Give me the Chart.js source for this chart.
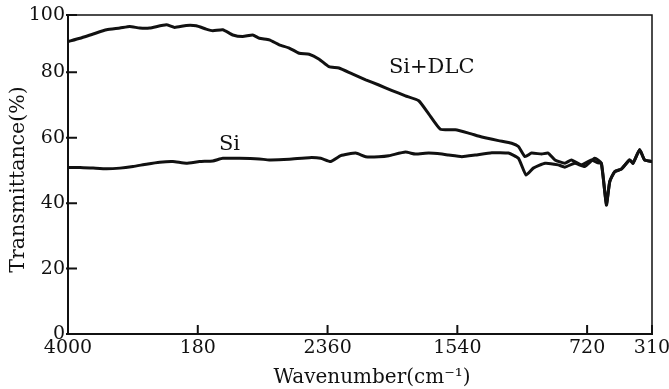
<!DOCTYPE html>
<html>
<head>
<meta charset="utf-8">
<script src="https://cdn.jsdelivr.net/npm/chart.js@4"></script>
<style>
html,body{margin:0;padding:0;background:#fff;}
canvas{display:block;}
</style>
</head>
<body>
<canvas id="c" width="669" height="389"></canvas>
<script>
// ---- data ----
const siDlcWavenumber = [4000,3924,3841,3756,3672,3610,3547,3484,3379,3326,3253,3190,3127,3085,3022,2959,2896,2833,2791,2728,2665,2602,2539,2476,2413,2351,2288,2204,2119,2036,1952,1868,1784,1721,1647,1553,1469,1385,1280,1197,1154,1112,1071,1008,966,923,860,819,756,693,651,630,598,577,546,504,451,430,388,357,310];
const siDlcTransmittance = [89.4,90.4,91.7,93.0,93.5,94.0,93.5,93.5,94.5,93.7,94.3,94.2,93.2,92.7,93.0,91.4,90.9,91.4,90.4,89.9,88.4,87.4,85.8,85.5,84.0,81.7,81.3,79.5,77.7,76.1,74.4,72.8,71.3,67.3,62.6,62.4,61.4,60.2,59.1,58.3,57.3,54.2,55.3,55.0,55.3,53.2,52.2,53.2,51.7,53.2,52.3,52.2,39.8,46.6,49.6,50.4,53.2,52.2,56.3,53.2,52.7];

const siWavenumber = [4000,3924,3841,3756,3672,3589,3505,3421,3337,3253,3169,3085,3022,2917,2791,2728,2602,2476,2403,2340,2277,2182,2119,2036,1973,1868,1805,1721,1637,1595,1511,1427,1322,1217,1154,1106,1060,986,903,860,798,735,672,630,598,577,546,504,451,430,388,357,310];
const siTransmittance = [50.9,50.9,50.7,50.5,50.7,51.2,51.9,52.5,52.7,52.2,52.7,52.9,53.7,53.7,53.5,53.2,53.4,53.9,53.7,52.7,54.5,55.3,54.2,54.2,54.5,55.6,55.0,55.3,55.0,54.7,54.2,54.7,55.4,55.3,53.7,48.6,50.7,52.2,51.7,51.0,52.2,51.2,53.7,52.2,39.4,46.6,49.6,50.4,53.2,52.2,56.3,53.2,52.7];

const xTickValues = [4000,3180,2360,1540,720,310];
const xTickLabels = ["4000","180","2360","1540","720","310"];
const yTickValues = [0,20,40,60,80,100];
const yTickLabels = ["0","20","40","60","80","100"];

const seriesNames = ["Si+DLC","Si"];
const xTitle = "Wavenumber(cm\u207B\u00B9)";
const yTitle = "Transmittance(%)";

// ---- styling / layout ----
const INK = '#111';
const SERIF = '"DejaVu Serif", "Liberation Serif", serif';
const Y_TOP = 97.5; // the frame top, labelled "100" in the reference

const labelSpots = [
  {text: seriesNames[0], x: 1702, y: 81.3},
  {text: seriesNames[1], x: 2980, y: 57.8}
];

const decoPlugin = {
  id: 'deco',
  afterDatasetsDraw(chart) {
    const {ctx, chartArea: a, scales: {x, y}} = chart;
    ctx.save();
    ctx.strokeStyle = INK;
    ctx.lineCap = 'square';
    // left and bottom axes
    ctx.lineWidth = 2;
    ctx.beginPath();
    ctx.moveTo(a.left, a.top);
    ctx.lineTo(a.left, a.bottom);
    ctx.lineTo(a.right, a.bottom);
    ctx.stroke();
    // top and right frame
    ctx.lineWidth = 1.5;
    ctx.beginPath();
    ctx.moveTo(a.left, a.top);
    ctx.lineTo(a.right, a.top);
    ctx.lineTo(a.right, a.bottom);
    ctx.stroke();
    // inward tick marks
    ctx.lineWidth = 2;
    ctx.lineCap = 'butt';
    ctx.beginPath();
    x.ticks.forEach(t => {
      const px = x.getPixelForValue(t.value);
      ctx.moveTo(px, a.bottom);
      ctx.lineTo(px, a.bottom - 9);
    });
    y.ticks.forEach(t => {
      const py = y.getPixelForValue(t.value);
      ctx.moveTo(a.left - 2, py);
      ctx.lineTo(a.left + 9, py);
    });
    ctx.stroke();
    // curve labels
    ctx.fillStyle = INK;
    ctx.font = '21px ' + SERIF;
    ctx.textAlign = 'center';
    ctx.textBaseline = 'middle';
    labelSpots.forEach(s => {
      ctx.fillText(s.text, x.getPixelForValue(s.x), y.getPixelForValue(s.y));
    });
    // axis titles
    ctx.font = '20px ' + SERIF;
    ctx.fillText(xTitle, (a.left + a.right) / 2 + 12, 378);
    ctx.translate(19, (a.top + a.bottom) / 2 + 5);
    ctx.rotate(-Math.PI / 2);
    ctx.font = '20.5px ' + SERIF;
    ctx.fillText(yTitle, 0, 0);
    ctx.restore();
  }
};

function pts(xs, ys) { return xs.map((v, i) => ({x: v, y: ys[i]})); }

const lineStyle = {
  borderColor: INK,
  borderWidth: 3,
  pointRadius: 0,
  tension: 0.15,
  fill: false,
  borderJoinStyle: 'round',
  borderCapStyle: 'round'
};

new Chart(document.getElementById('c').getContext('2d'), {
  type: 'line',
  data: {
    datasets: [
      Object.assign({label: seriesNames[0], data: pts(siDlcWavenumber, siDlcTransmittance)}, lineStyle),
      Object.assign({label: seriesNames[1], data: pts(siWavenumber, siTransmittance)}, lineStyle)
    ]
  },
  options: {
    responsive: false,
    animation: false,
    devicePixelRatio: 1,
    layout: {padding: {left: 0, right: 17, top: 15, bottom: 0}},
    plugins: {legend: {display: false}, tooltip: {enabled: false}},
    scales: {
      x: {
        type: 'linear',
        reverse: true,
        min: 310,
        max: 4000,
        grid: {display: false, drawTicks: false},
        border: {display: false},
        ticks: {
          autoSkip: false,
          maxRotation: 0,
          padding: 3,
          color: INK,
          font: {family: SERIF, size: 19},
          callback: (v) => { const i = xTickValues.indexOf(v); return i >= 0 ? xTickLabels[i] : ''; }
        },
        afterBuildTicks: (s) => { s.ticks = xTickValues.map(v => ({value: v})); },
        afterFit: (s) => { s.height = 55; s.paddingLeft = 0; s.paddingRight = 0; },
        title: {display: false}
      },
      y: {
        type: 'linear',
        min: 0,
        max: Y_TOP,
        grid: {display: false, drawTicks: false},
        border: {display: false},
        ticks: {
          autoSkip: false,
          padding: 3,
          color: INK,
          font: {family: SERIF, size: 19},
          callback: (v, i) => yTickLabels[i]
        },
        afterBuildTicks: (s) => { s.ticks = yTickValues.map(v => ({value: Math.min(v, Y_TOP)})); },
        afterFit: (s) => { s.width = 68; s.paddingTop = 0; s.paddingBottom = 0; },
        title: {display: false}
      }
    }
  },
  plugins: [decoPlugin]
});
</script>
</body>
</html>
